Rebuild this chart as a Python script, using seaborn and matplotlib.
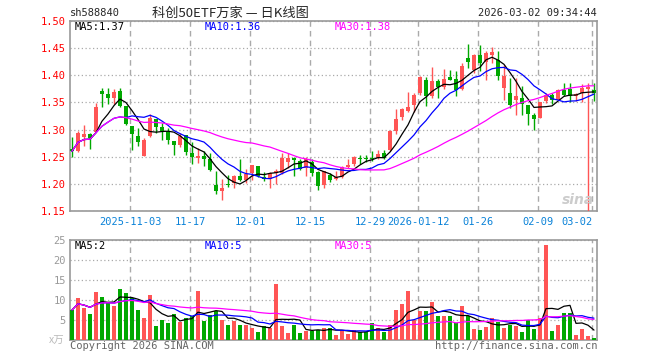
import pandas as pd
import numpy as np
import matplotlib
matplotlib.use("Agg")
import matplotlib.pyplot as plt
import seaborn as sns

sns.set_style("white")
plt.rcParams['font.family'] = ['DejaVu Sans Mono', 'Noto Sans CJK SC']

# ==========================================================
# DATA  (read off the sina daily K chart of sh588840)
# ==========================================================

HOLIDAYS = ['2026-01-01', '2026-01-02', '2026-02-16', '2026-02-17', '2026-02-18',
            '2026-02-19', '2026-02-20', '2026-02-23']
dates = pd.bdate_range('2025-10-20', '2026-03-02', freq='C', holidays=HOLIDAYS)

open_ = [1.265, 1.260, 1.287, 1.292, 1.296, 1.371, 1.365, 1.359, 1.371, 1.344,
         1.307, 1.288, 1.251, 1.288, 1.320, 1.304, 1.298, 1.279, 1.272, 1.290,
         1.257, 1.247, 1.251, 1.246, 1.197, 1.187, 1.199, 1.201, 1.215, 1.208,
         1.220, 1.232, 1.213, 1.209, 1.220, 1.220, 1.240, 1.247, 1.243, 1.229,
         1.241, 1.221, 1.197, 1.216, 1.209, 1.213, 1.231, 1.237, 1.248, 1.248,
         1.248, 1.248, 1.256, 1.262, 1.297, 1.323, 1.335, 1.346, 1.367, 1.392,
         1.361, 1.389, 1.379, 1.397, 1.394, 1.375, 1.432, 1.410, 1.438, 1.424,
         1.437, 1.429, 1.376, 1.368, 1.354, 1.358, 1.346, 1.327, 1.321, 1.352,
         1.363, 1.355, 1.372, 1.375, 1.361, 1.367, 1.375, 1.373]
high = [1.287, 1.298, 1.309, 1.293, 1.349, 1.377, 1.377, 1.374, 1.377, 1.344,
        1.307, 1.302, 1.285, 1.329, 1.320, 1.313, 1.302, 1.279, 1.293, 1.290,
        1.278, 1.266, 1.260, 1.256, 1.224, 1.209, 1.217, 1.217, 1.246, 1.227,
        1.235, 1.232, 1.221, 1.221, 1.227, 1.256, 1.256, 1.249, 1.246, 1.249,
        1.246, 1.223, 1.224, 1.220, 1.224, 1.232, 1.245, 1.251, 1.254, 1.254,
        1.260, 1.263, 1.263, 1.300, 1.338, 1.340, 1.370, 1.368, 1.398, 1.397,
        1.416, 1.393, 1.412, 1.409, 1.408, 1.422, 1.458, 1.440, 1.456, 1.444,
        1.453, 1.444, 1.419, 1.395, 1.395, 1.380, 1.346, 1.330, 1.350, 1.367,
        1.367, 1.375, 1.386, 1.386, 1.367, 1.384, 1.386, 1.386]
low = [1.249, 1.258, 1.269, 1.265, 1.295, 1.342, 1.347, 1.348, 1.342, 1.308,
       1.262, 1.269, 1.251, 1.287, 1.293, 1.280, 1.274, 1.254, 1.268, 1.254,
       1.237, 1.238, 1.232, 1.223, 1.182, 1.171, 1.195, 1.193, 1.205, 1.201,
       1.208, 1.213, 1.205, 1.193, 1.199, 1.219, 1.229, 1.215, 1.225, 1.214,
       1.215, 1.188, 1.193, 1.203, 1.207, 1.211, 1.229, 1.232, 1.237, 1.240,
       1.242, 1.246, 1.246, 1.260, 1.292, 1.318, 1.333, 1.333, 1.364, 1.344,
       1.358, 1.358, 1.375, 1.391, 1.361, 1.373, 1.414, 1.405, 1.407, 1.392,
       1.422, 1.392, 1.355, 1.340, 1.326, 1.327, 1.309, 1.300, 1.321, 1.349,
       1.348, 1.354, 1.361, 1.350, 1.352, 1.350, 1.150, 1.352]
close = [1.260, 1.293, 1.292, 1.284, 1.342, 1.366, 1.359, 1.370, 1.344, 1.310,
         1.292, 1.278, 1.281, 1.321, 1.304, 1.298, 1.281, 1.272, 1.288, 1.259,
         1.249, 1.252, 1.246, 1.225, 1.187, 1.192, 1.198, 1.214, 1.208, 1.218,
         1.235, 1.215, 1.209, 1.220, 1.224, 1.248, 1.247, 1.244, 1.227, 1.246,
         1.220, 1.196, 1.223, 1.207, 1.213, 1.231, 1.235, 1.249, 1.246, 1.246,
         1.246, 1.255, 1.248, 1.298, 1.319, 1.337, 1.341, 1.364, 1.396, 1.361,
         1.389, 1.378, 1.393, 1.392, 1.373, 1.418, 1.424, 1.437, 1.422, 1.441,
         1.442, 1.398, 1.398, 1.346, 1.361, 1.348, 1.329, 1.320, 1.350, 1.364,
         1.355, 1.373, 1.364, 1.361, 1.365, 1.376, 1.378, 1.367]
volume = [7.5, 10.6, 8.1, 6.5, 12.1, 10.8, 9.6, 8.5, 12.8, 11.7,
          10.5, 7.5, 5.6, 11.3, 3.5, 5.0, 4.2, 6.5, 4.6, 5.4,
          6.0, 12.3, 4.8, 6.3, 7.3, 5.0, 3.8, 4.8, 3.8, 3.8,
          3.1, 2.0, 3.5, 2.9, 14.0, 3.5, 1.8, 3.8, 1.8, 2.3,
          2.3, 2.5, 3.1, 3.1, 1.3, 2.3, 1.5, 2.5, 2.0, 1.9,
          4.2, 3.1, 2.0, 3.8, 7.5, 9.0, 12.3, 5.0, 7.3, 7.3,
          9.4, 6.0, 6.0, 6.0, 4.2, 8.4, 6.0, 2.8, 2.5, 3.3,
          5.6, 4.6, 3.1, 3.8, 3.5, 2.0, 5.0, 2.8, 5.6, 23.8,
          2.3, 3.8, 6.7, 6.7, 1.3, 2.8, 1.0, 0.6]

tick_dates = ['2025-11-03', '2025-11-17', '2025-12-01', '2025-12-15', '2025-12-29',
              '2026-01-12', '2026-01-26', '2026-02-09', '2026-03-02']
tick_labels = ['2025-11-03', '11-17', '12-01', '12-15', '12-29',
               '2026-01-12', '01-26', '02-09', '03-02']

price_ma_text = ['MA5:1.37', 'MA10:1.36', 'MA30:1.38']
vol_ma_text = ['MA5:2', 'MA10:5', 'MA30:5']

# ==========================================================
# PREP
# ==========================================================

df = pd.DataFrame({'date': dates, 'open': open_, 'high': high, 'low': low,
                   'close': close, 'vol': volume})
df['i'] = np.arange(len(df))
df['dir'] = np.where(df['close'] >= df['open'], 'up', 'down')
for n in (5, 10, 30):
    df[f'ma{n}'] = df['close'].rolling(n, min_periods=1).mean()
    df[f'vma{n}'] = df['vol'].rolling(n, min_periods=1).mean()

RED = '#ff5555'
GREEN = '#00a800'
MA_COLORS = ['black', '#0000ff', '#ff00ff']
GRID = '#aaaaaa'
FRAME = '#999999'
W, H = 660, 360

ticks = dates.get_indexer(pd.to_datetime(tick_dates)) - 0.3


def px(x, y):
    return x / W, 1 - y / H


# ==========================================================
# FIGURE
# ==========================================================

fig = plt.figure(figsize=(W / 100, H / 100), dpi=100)
ax = fig.add_axes([70 / W, 1 - 211 / H, 527 / W, 190 / H])
axv = fig.add_axes([70 / W, 1 - 340 / H, 527 / W, 100 / H])

# candles
colors = np.where(df['dir'] == 'up', RED, GREEN)
ax.vlines(df['i'], df['low'], df['high'], colors=colors, lw=1, zorder=3)
body_lo = np.minimum(df['open'], df['close'])
body_h = np.maximum((df['close'] - df['open']).abs(), 0.0015)
ax.bar(df['i'], body_h, bottom=body_lo, width=0.8, color=colors, lw=0, zorder=3)

for n, c in zip((5, 10, 30), MA_COLORS):
    sns.lineplot(x=df['i'], y=df[f'ma{n}'], color=c, lw=0.9, ax=ax, zorder=4)

# volume, one bar per day coloured like its candle
sns.barplot(data=df, x='i', y='vol', hue='i', palette=list(colors),
            dodge=False, width=0.8, errorbar=None, legend=False,
            ax=axv, zorder=3, linewidth=0, saturation=1)
for n, c in zip((5, 10, 30), MA_COLORS):
    sns.lineplot(x=df['i'], y=df[f'vma{n}'], color=c, lw=0.9, ax=axv, zorder=4)

# axes styling
for a in (ax, axv):
    a.set_xlim(-0.33, 87.5)
    a.set_xticks(ticks)
    a.grid(axis='x', color=GRID, ls=(0, (4, 3)), lw=1)
    a.grid(axis='y', color=GRID, ls=(0, (1, 2)), lw=0.9)
    a.set_axisbelow(True)
    a.set_xlabel('')
    a.set_ylabel('')
    a.tick_params(length=0, labelsize=7.5)
    for s in a.spines.values():
        s.set_color(FRAME)
        s.set_linewidth(1.2)

ax.set_ylim(1.15, 1.50)
ax.set_yticks(np.arange(1.15, 1.501, 0.05))
ax.set_yticklabels([f'{v:.2f}' for v in np.arange(1.15, 1.501, 0.05)], color='#ff0000')
ax.set_xticklabels(tick_labels, color='#0a82d8')
ax.tick_params(axis='x', pad=4)
ax.tick_params(axis='y', pad=3)
ax.get_xticklabels()[-1].set_ha('right')

axv.set_ylim(0, 25)
axv.set_yticks([5, 10, 15, 20, 25])
axv.set_yticklabels(['5', '10', '15', '20', '25'], color='#999999')
axv.tick_params(axis='y', pad=3)
axv.set_xticklabels([])

# ==========================================================
# TEXTS
# ==========================================================

fig.text(*px(70, 13), 'sh588840', fontsize=7.5, va='center', ha='left')
fig.text(*px(230, 13), '科创50ETF万家 — 日K线图', fontsize=9.5, va='center', ha='center',
         family=['Noto Sans CJK SC', 'DejaVu Sans'])
fig.text(*px(597, 13), '2026-03-02 09:34:44', fontsize=7.5, va='center', ha='right')

for x, t, c in zip((75, 205, 335), price_ma_text, MA_COLORS):
    fig.text(*px(x, 27), t, color=c, fontsize=7.5, va='center', ha='left')
for x, t, c in zip((75, 205, 335), vol_ma_text, MA_COLORS):
    fig.text(*px(x, 246), t, color=c, fontsize=7.5, va='center', ha='left')

fig.text(*px(64, 341), 'x万', color='#bbbbbb', fontsize=7.5, va='center', ha='right',
         family=['Noto Sans CJK SC', 'DejaVu Sans'])
fig.text(*px(70, 346), 'Copyright 2026 SINA.COM', color='#666666', fontsize=7.5,
         va='center', ha='left')
fig.text(*px(597, 346), 'http://finance.sina.com.cn', color='#666666', fontsize=7.5,
         va='center', ha='right')
fig.text(*px(578, 200), 'sina', color='#cccccc', fontsize=10, fontweight='bold',
         style='italic', va='center', ha='center', family='DejaVu Sans', zorder=0)

fig.savefig('out.png', dpi=100)
